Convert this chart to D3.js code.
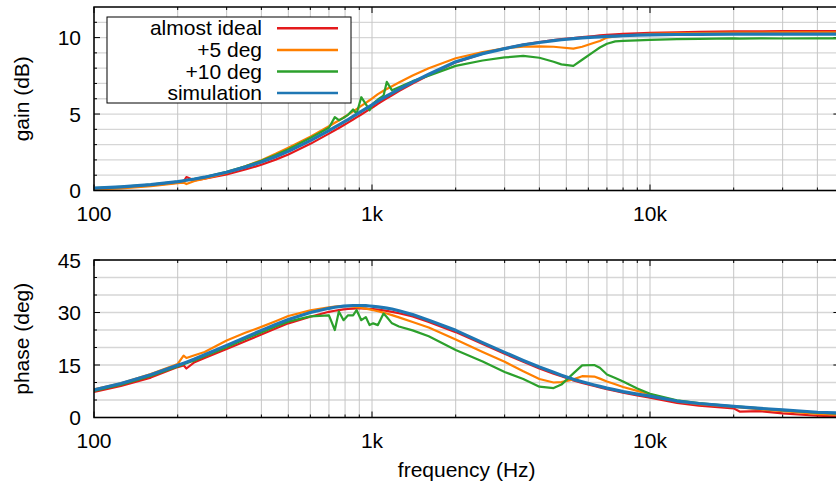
<!DOCTYPE html>
<html>
<head>
<meta charset="utf-8">
<script src="https://cdn.jsdelivr.net/npm/d3@7"></script>
<style>
  body { margin: 0; background: #fff; }
  svg text { font-family: "Liberation Sans", Arial, sans-serif; fill: #000; }
</style>
</head>
<body>
<svg id="bode" width="836" height="486"></svg>
<script>
// frequency points (Hz), shared by every series
var freqs = [100,125,160,200,210,215,230,250,300,350,400,450,500,600,700,735,760,790,820,855,880,915,950,980,1010,
  1050,1100,1130,1180,1250,1400,1600,2000,2500,3000,3500,4000,4500,4800,5300,5700,6300,6600,7000,7500,8000,9000,
  10000,12500,15000,20000,21000,25000,30000,40000,50000];

// gain (dB)
var gainIdeal = [0.12,0.2,0.33,0.52,0.58,0.88,0.66,0.78,1.05,1.37,1.68,2.02,2.36,3.05,3.72,3.94,4.09,4.27,4.44,4.64,4.78,4.97,5.16,5.31,5.46,
  5.67,5.9,6.03,6.23,6.5,7.0,7.53,8.38,8.95,9.3,9.54,9.71,9.84,9.9,9.97,10.03,10.1,10.14,10.18,10.21,10.24,10.28,
  10.31,10.35,10.38,10.4,10.4,10.41,10.42,10.43,10.43];
var gain5 = [0.08,0.14,0.28,0.48,0.52,0.42,0.62,0.78,1.15,1.58,1.98,2.4,2.8,3.52,4.2,4.43,4.58,4.77,4.96,5.17,5.32,5.53,5.73,5.9,6.08,
  6.3,6.52,6.64,6.82,7.06,7.52,8.0,8.65,9.05,9.3,9.4,9.42,9.4,9.35,9.28,9.4,9.66,9.78,10.0,10.08,10.12,10.18,
  10.24,10.28,10.3,10.32,10.32,10.33,10.34,10.35,10.35];
var gain10 = [0.15,0.24,0.38,0.58,0.64,0.67,0.76,0.88,1.22,1.58,1.94,2.32,2.7,3.44,4.1,4.8,4.6,4.75,4.95,5.3,5.02,6.1,5.65,5.25,5.7,
  5.95,6.2,7.1,6.55,6.75,7.15,7.5,8.15,8.5,8.7,8.8,8.68,8.42,8.25,8.15,8.55,9.1,9.35,9.6,9.75,9.78,9.82,
  9.85,9.9,9.92,9.95,9.93,9.95,9.94,9.95,9.95];
var gainSim = [0.15,0.24,0.38,0.58,0.64,0.67,0.75,0.87,1.19,1.53,1.86,2.21,2.56,3.26,3.92,4.14,4.29,4.47,4.64,4.84,4.98,5.17,5.35,5.5,5.65,
  5.85,6.06,6.18,6.37,6.62,7.09,7.6,8.42,8.95,9.28,9.52,9.68,9.8,9.86,9.93,9.98,10.03,10.05,10.08,10.1,10.12,10.16,
  10.18,10.2,10.21,10.22,10.22,10.22,10.22,10.22,10.22];

// phase (deg)
var phaseIdeal = [7.3,9.0,11.4,14.4,14.9,14.0,15.8,17.0,19.6,21.8,23.7,25.4,26.9,28.8,30.2,30.5,30.7,30.9,31.0,31.1,31.15,31.15,31.1,31.0,30.95,
  30.8,30.6,30.45,30.2,29.8,28.9,27.3,24.4,21.0,18.2,15.9,14.0,12.5,11.8,10.6,9.9,9.0,8.6,8.1,7.6,7.1,6.3,
  5.7,4.2,3.4,2.6,1.7,1.8,1.2,0.5,0.2];
var phase5 = [8.0,9.8,12.4,15.3,17.7,17.0,17.8,18.7,22.0,24.2,25.9,27.5,29.0,30.6,31.5,31.7,31.8,31.85,31.8,31.7,31.55,31.35,31.1,30.9,30.65,
  30.35,29.95,29.7,29.25,28.6,27.3,25.7,22.3,18.7,15.9,13.2,11.0,10.0,10.1,10.9,11.8,11.7,11.1,10.3,9.5,8.7,7.6,
  6.6,4.6,3.8,3.0,2.9,2.3,1.8,1.0,0.7];
var phase10 = [7.6,9.4,11.9,14.6,15.2,15.5,16.3,17.5,20.1,22.4,24.3,26.0,27.4,28.9,29.2,25.0,30.3,27.8,29.2,29.2,30.7,27.8,28.7,26.4,26.9,
  26.4,29.7,28.7,26.9,26.0,24.9,23.2,19.3,16.0,13.0,11.0,8.8,8.4,9.4,12.6,14.9,15.0,14.2,12.3,11.3,10.3,8.3,
  6.8,4.9,4.1,3.2,3.1,2.6,2.1,1.4,1.1];
var phaseSim = [7.9,9.7,12.2,14.9,15.5,15.8,16.7,17.9,20.6,22.9,24.9,26.6,28.0,30.0,31.2,31.5,31.65,31.8,31.9,32.0,32.0,32.0,31.95,31.85,31.75,
  31.6,31.4,31.25,31.0,30.5,29.4,27.8,24.9,21.4,18.6,16.3,14.4,12.9,12.1,10.9,10.2,9.3,8.9,8.4,7.9,7.4,6.7,
  6.1,4.7,4.0,3.2,3.05,2.6,2.2,1.5,1.2];

var seriesNames = ["almost ideal", "+5 deg", "+10 deg", "simulation"];

// axis ticks
var xMajor = [100, 1000, 10000];
var xMajorLabels = ["100", "1k", "10k"];
var xMinor = [200,300,400,500,600,700,800,900,2000,3000,4000,5000,6000,7000,8000,9000,20000,30000,40000];
var gainMajor = [0, 5, 10];
var gainMinor = [1,2,3,4,6,7,8,9,11];
var phaseMajor = [0, 15, 30, 45];
var phaseMinor = [5,10,20,25,35,40];

var colors = ["#e41a1c", "#ff7f00", "#2ca02c", "#1f77b4"];
var widths = [2.2, 2.2, 2.2, 3.2];
var fontSize = "21px";

var svg = d3.select("#bode");
var left = 94, right = 839.4;

var x = d3.scaleLog().domain([100, 48000]).range([left, right]);

function drawPanel(top, bottom, yMax, major, minor, yTitle, values, withLegend) {
  var y = d3.scaleLinear().domain([0, yMax]).range([bottom, top]);
  var g = svg.append("g");
  var clipId = "clip" + Math.round(top);

  g.append("clipPath").attr("id", clipId)
    .append("rect").attr("x", left).attr("y", top).attr("width", right - left).attr("height", bottom - top);

  // grid
  g.selectAll(".hgrid").data(major.concat(minor)).enter().append("line")
    .attr("x1", left).attr("x2", right)
    .attr("y1", d => y(d)).attr("y2", d => y(d))
    .attr("stroke", "#d6d6d6").attr("stroke-width", 1.3);
  g.selectAll(".vgrid").data(xMajor.concat(xMinor)).enter().append("line")
    .attr("x1", d => x(d)).attr("x2", d => x(d))
    .attr("y1", top).attr("y2", bottom)
    .attr("stroke", "#c6c6c6").attr("stroke-width", 1);

  // ticks (inward, mirrored)
  var tk = g.append("g").attr("stroke", "#000").attr("stroke-width", 1);
  major.forEach(function(v) {
    tk.append("line").attr("x1", left).attr("x2", left + 6).attr("y1", y(v)).attr("y2", y(v));
    tk.append("line").attr("x1", right).attr("x2", right - 6).attr("y1", y(v)).attr("y2", y(v));
  });
  minor.forEach(function(v) {
    tk.append("line").attr("x1", left).attr("x2", left + 3).attr("y1", y(v)).attr("y2", y(v));
    tk.append("line").attr("x1", right).attr("x2", right - 3).attr("y1", y(v)).attr("y2", y(v));
  });
  xMajor.forEach(function(v) {
    tk.append("line").attr("x1", x(v)).attr("x2", x(v)).attr("y1", bottom).attr("y2", bottom - 6);
    tk.append("line").attr("x1", x(v)).attr("x2", x(v)).attr("y1", top).attr("y2", top + 6);
  });
  xMinor.forEach(function(v) {
    tk.append("line").attr("x1", x(v)).attr("x2", x(v)).attr("y1", bottom).attr("y2", bottom - 3);
    tk.append("line").attr("x1", x(v)).attr("x2", x(v)).attr("y1", top).attr("y2", top + 3);
  });

  // curves
  var line = d3.line()
    .x((d, i) => x(freqs[i]))
    .y(d => y(d));
  var curves = g.append("g").attr("clip-path", "url(#" + clipId + ")");
  values.forEach(function(vals, k) {
    curves.append("path")
      .attr("d", line(vals))
      .attr("fill", "none")
      .attr("stroke", colors[k])
      .attr("stroke-width", widths[k])
      .attr("stroke-linejoin", "round");
  });

  // frame
  g.append("rect")
    .attr("x", left).attr("y", top)
    .attr("width", right - left).attr("height", bottom - top)
    .attr("fill", "none").attr("stroke", "#000").attr("stroke-width", 1.5);

  // tick labels
  g.selectAll(".ylab").data(major).enter().append("text")
    .attr("x", 81).attr("y", d => y(d)).attr("dy", "0.36em")
    .attr("text-anchor", "end").attr("font-size", fontSize)
    .text(d => d);
  g.selectAll(".xlab").data(xMajor).enter().append("text")
    .attr("x", d => x(d)).attr("y", bottom + 30)
    .attr("text-anchor", "middle").attr("font-size", fontSize)
    .text((d, i) => xMajorLabels[i]);

  g.append("text")
    .attr("transform", "translate(29," + ((top + bottom) / 2) + ") rotate(-90)")
    .attr("text-anchor", "middle").attr("font-size", fontSize)
    .text(yTitle);

  if (withLegend) {
    var lg = g.append("g");
    lg.append("rect").attr("x", 107).attr("y", 17).attr("width", 244).attr("height", 86)
      .attr("fill", "#fff").attr("stroke", "#000").attr("stroke-width", 1);
    seriesNames.forEach(function(name, k) {
      var ly = 28.3 + k * 21.6;
      lg.append("text").attr("x", 262).attr("y", ly).attr("dy", "0.34em")
        .attr("text-anchor", "end").attr("font-size", fontSize).text(name);
      lg.append("line").attr("x1", 277).attr("x2", 338).attr("y1", ly).attr("y2", ly)
        .attr("stroke", colors[k]).attr("stroke-width", 2.5);
    });
  }
}

drawPanel(7, 190.5, 12, gainMajor, gainMinor, "gain (dB)", [gainIdeal, gain5, gain10, gainSim], true);
drawPanel(260, 417.5, 45, phaseMajor, phaseMinor, "phase (deg)", [phaseIdeal, phase5, phase10, phaseSim], false);

svg.append("text")
  .attr("x", (left + right) / 2).attr("y", 477)
  .attr("text-anchor", "middle").attr("font-size", fontSize)
  .text("frequency (Hz)");
</script>
</body>
</html>
